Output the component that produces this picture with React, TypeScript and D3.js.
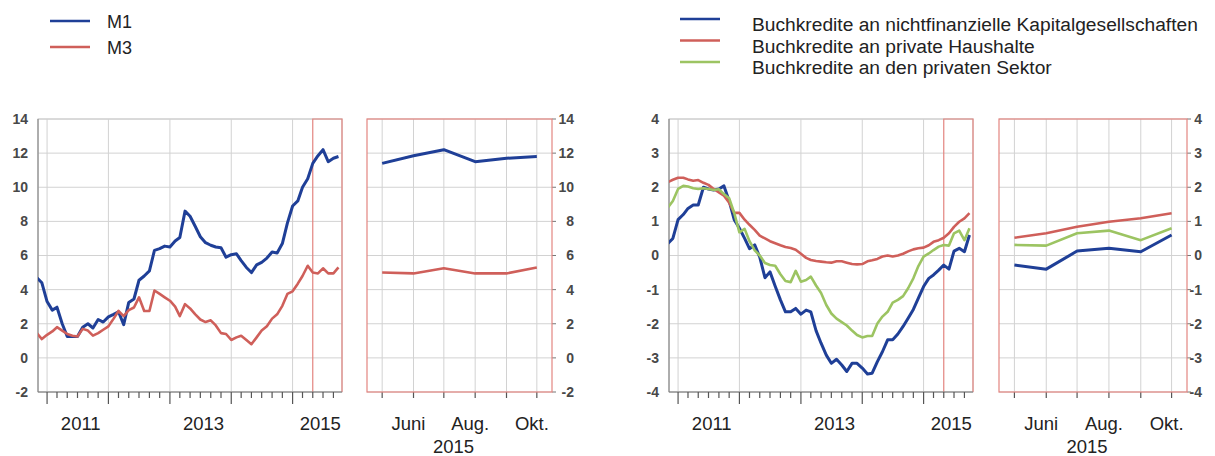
import React from 'react';
import * as d3 from 'd3';

// monthly observations, Nov 2010 .. Oct 2015
const months = d3.timeMonth.range(new Date(2010, 10, 1), new Date(2015, 10, 1));

// left panel: annual growth rates of monetary aggregates (%)
const m1 = [4.7, 4.4, 3.3, 2.8, 2.97, 2.0, 1.25, 1.25, 1.25, 1.8, 2.0, 1.75, 2.25, 2.1, 2.4, 2.55, 2.7, 1.95, 3.25, 3.45,
  4.55, 4.8, 5.1, 6.3, 6.4, 6.55, 6.5, 6.85, 7.05, 8.6, 8.3, 7.7, 7.1, 6.75, 6.6, 6.5, 6.45, 5.9, 6.05, 6.1,
  5.7, 5.3, 5.0, 5.45, 5.6, 5.85, 6.2, 6.15, 6.7, 7.9, 8.9, 9.2, 10.0, 10.5, 11.4, 11.85, 12.2, 11.5, 11.7, 11.8];
const m3 = [1.45, 1.1, 1.35, 1.55, 1.8, 1.6, 1.4, 1.3, 1.25, 1.7, 1.6, 1.3, 1.45, 1.65, 1.85, 2.3, 2.75, 2.45, 2.8, 2.95,
  3.55, 2.75, 2.75, 3.95, 3.75, 3.55, 3.35, 3.0, 2.45, 3.15, 2.9, 2.55, 2.25, 2.1, 2.2, 1.9, 1.45, 1.4, 1.05, 1.2,
  1.3, 1.05, 0.8, 1.2, 1.6, 1.85, 2.3, 2.55, 3.05, 3.75, 3.9, 4.35, 4.8, 5.4, 5.0, 4.95, 5.25, 4.95, 4.95, 5.3];

// right panel: loans (%)
const loansNfc = [0.35, 0.5, 1.05, 1.2, 1.38, 1.48, 1.48, 2.0, 1.95, 1.92, 1.95, 2.04, 1.6, 1.05, 0.8, 0.5, 0.2, 0.31, -0.05, -0.65,
  -0.48, -0.9, -1.3, -1.65, -1.65, -1.55, -1.72, -1.6, -1.65, -2.2, -2.57, -2.92, -3.16, -3.04, -3.21, -3.4, -3.16, -3.16, -3.3, -3.47,
  -3.45, -3.11, -2.82, -2.47, -2.47, -2.3, -2.08, -1.84, -1.58, -1.25, -0.91, -0.67, -0.57, -0.43, -0.28, -0.4, 0.13, 0.21, 0.11, 0.6];
const loansHouseholds = [2.15, 2.22, 2.28, 2.28, 2.23, 2.19, 2.21, 2.13, 2.07, 1.95, 1.85, 1.75, 1.55, 1.25, 1.25, 1.05, 0.9, 0.75, 0.58, 0.5,
  0.42, 0.36, 0.3, 0.25, 0.22, 0.17, 0.05, -0.07, -0.13, -0.16, -0.18, -0.2, -0.21, -0.17, -0.17, -0.21, -0.25, -0.26, -0.25, -0.17,
  -0.14, -0.1, -0.03, 0.0, -0.03, 0.0, 0.05, 0.12, 0.18, 0.21, 0.23, 0.3, 0.4, 0.45, 0.52, 0.65, 0.84, 0.99, 1.09, 1.24];
const loansPrivate = [1.4, 1.6, 1.95, 2.04, 2.02, 1.97, 1.95, 1.97, 1.95, 1.92, 1.94, 1.8, 1.68, 1.25, 0.68, 0.78, 0.42, 0.15, 0.0, -0.22,
  -0.28, -0.3, -0.55, -0.75, -0.78, -0.45, -0.77, -0.72, -0.62, -0.88, -1.1, -1.45, -1.7, -1.85, -1.95, -2.05, -2.2, -2.33, -2.4, -2.36,
  -2.36, -1.99, -1.79, -1.65, -1.38, -1.3, -1.19, -0.96, -0.67, -0.31, -0.03, 0.06, 0.16, 0.26, 0.31, 0.29, 0.65, 0.73, 0.45, 0.8];

const leftTicks = [-2, 0, 2, 4, 6, 8, 10, 12, 14];
const rightTicks = [-4, -3, -2, -1, 0, 1, 2, 3, 4];
const yearLabels = [2011, 2013, 2015];
const zoomMonthLabels = ['Juni', 'Aug.', 'Okt.'];
const zoomMonthIndex = [5, 7, 9];
const zoomYear = '2015';

const leftLegend = ['M1', 'M3'];
const rightLegend = [
  'Buchkredite an nichtfinanzielle Kapitalgesellschaften',
  'Buchkredite an private Haushalte',
  'Buchkredite an den privaten Sektor',
];

const BLUE = '#1f3f97';
const RED = '#cf5f5a';
const GREEN = '#9cc462';
const FRAME_RED = '#e38580';
const GRID = '#d2d2d2';
const FONT = '"Liberation Sans", Arial, Helvetica, sans-serif';

const mainDomain: [Date, Date] = [new Date(2010, 10, 8), new Date(2015, 9, 22)];
const zoomDomain: [Date, Date] = [new Date(2015, 3, 16), new Date(2015, 9, 16)];
const zoomStart = new Date(2015, 4, 1);

type PanelProps = {
  id: string;
  series: { values: number[]; color: string; width: number }[];
  yDomain: [number, number];
  yTicks: number[];
  mainRange: [number, number];
  zoomRange: [number, number];
  leftLabelX: number;
  rightLabelX: number;
};

const TOP = 119;
const BOTTOM = 392;

function Panel({ id, series, yDomain, yTicks, mainRange, zoomRange, leftLabelX, rightLabelX }: PanelProps) {
  const y = d3.scaleLinear().domain(yDomain).range([BOTTOM, TOP]);
  const x = d3.scaleTime().domain(mainDomain).range(mainRange);
  const xz = d3.scaleTime().domain(zoomDomain).range(zoomRange);

  const mainLine = d3.line<number>().x((d, i) => x(months[i])).y(d => y(d));
  const zoomIdx = months.map((m, i) => i).filter(i => months[i] >= zoomStart);

  const yearTicks = x.ticks(d3.timeYear.every(1));
  const minorTicks = x.ticks(d3.timeMonth.every(2));
  const [x0, x1] = mainRange;
  const [z0, z1] = zoomRange;
  const redX = x(zoomStart);

  const yearMid = (yr: number) => {
    const a = Math.max(x(new Date(yr, 0, 1)), x0);
    const b = Math.min(x(new Date(yr + 1, 0, 1)), x1);
    return (a + b) / 2 + 3;
  };

  return (
    <g>
      <defs>
        <clipPath id={`clip-${id}`}>
          <rect x={x0} y={TOP - 5} width={x1 - x0} height={BOTTOM - TOP + 10} />
        </clipPath>
      </defs>

      {/* main plot */}
      <rect x={x0} y={TOP} width={x1 - x0} height={BOTTOM - TOP} fill="white" stroke="#c4c4c4" />
      {yTicks.map(t => (
        <line key={`hg${t}`} x1={x0} x2={x1} y1={y(t)} y2={y(t)} stroke={GRID} />
      ))}
      {yearTicks.map(t => (
        <line key={`vg${+t}`} x1={x(t)} x2={x(t)} y1={TOP} y2={BOTTOM} stroke={GRID} />
      ))}
      <path d={`M${redX},${BOTTOM}V${TOP}H${x1}V${BOTTOM}`} fill="none" stroke={FRAME_RED} strokeWidth={1.2} />
      <line x1={x0} x2={x0} y1={TOP} y2={BOTTOM} stroke="#7a7a7a" />
      <line x1={x0} x2={x1} y1={BOTTOM} y2={BOTTOM} stroke="#7a7a7a" />
      {minorTicks.map(t => (
        <line key={`mt${+t}`} x1={x(t)} x2={x(t)} y1={BOTTOM} y2={BOTTOM + (t.getMonth() === 0 ? 12 : 6)}
          stroke="#555" strokeWidth={1.2} />
      ))}
      <g clipPath={`url(#clip-${id})`}>
        {series.map((s, k) => (
          <path key={k} d={mainLine(s.values) || ''} fill="none" stroke={s.color} strokeWidth={s.width}
            strokeLinejoin="round" />
        ))}
      </g>
      {yTicks.map(t => (
        <text key={`yl${t}`} x={leftLabelX} y={y(t)} dy="0.35em" textAnchor="end" fontSize={14}
          fontWeight="bold" fill="#484848" fontFamily={FONT}>{t}</text>
      ))}
      {yearLabels.map(yr => (
        <text key={`yr${yr}`} x={yearMid(yr)} y={430} textAnchor="middle" fontSize={18.5} fill="#222"
          fontFamily={FONT}>{yr}</text>
      ))}

      {/* zoom plot */}
      <rect x={z0} y={TOP} width={z1 - z0} height={BOTTOM - TOP} fill="white" />
      {yTicks.map(t => (
        <g key={`zg${t}`}>
          <line x1={z0} x2={z1} y1={y(t)} y2={y(t)} stroke={GRID} />
          <line x1={z1} x2={z1 + 4} y1={y(t)} y2={y(t)} stroke="#777" />
        </g>
      ))}
      {zoomIdx.map(i => (
        <g key={`zv${i}`}>
          <line x1={xz(months[i])} x2={xz(months[i])} y1={TOP} y2={BOTTOM} stroke={GRID} />
          <line x1={xz(months[i])} x2={xz(months[i])} y1={BOTTOM} y2={BOTTOM + 6} stroke="#555" strokeWidth={1.2} />
        </g>
      ))}
      <rect x={z0} y={TOP} width={z1 - z0} height={BOTTOM - TOP} fill="none" stroke={FRAME_RED} strokeWidth={1.2} />
      {series.map((s, k) => (
        <path key={`z${k}`}
          d={d3.line<number>().x(i => xz(months[i])).y(i => y(s.values[i]))(zoomIdx) || ''}
          fill="none" stroke={s.color} strokeWidth={s.width} strokeLinejoin="round" />
      ))}
      {yTicks.map(t => (
        <text key={`zl${t}`} x={rightLabelX} y={y(t)} dy="0.35em" textAnchor="end" fontSize={14}
          fontWeight="bold" fill="#484848" fontFamily={FONT}>{t}</text>
      ))}
      {zoomMonthLabels.map((lab, k) => (
        <text key={lab} x={xz(new Date(2015, zoomMonthIndex[k], 1)) - 5} y={430} textAnchor="middle"
          fontSize={18.5} fill="#222" fontFamily={FONT}>{lab}</text>
      ))}
      <text x={(z0 + z1) / 2 - 6} y={453} textAnchor="middle" fontSize={18.5} fill="#222" fontFamily={FONT}>
        {zoomYear}
      </text>
    </g>
  );
}

export default function App() {
  const leftColors = [BLUE, RED];
  const rightColors = [BLUE, RED, GREEN];
  return (
    <svg width={1215} height={456} style={{ position: 'absolute', left: 0, top: 0, background: 'white' }}>
      {leftLegend.map((name, k) => (
        <g key={name}>
          <line x1={50} x2={90} y1={21 + k * 26} y2={21 + k * 26} stroke={leftColors[k]} strokeWidth={2.5} />
          <text x={107} y={27.5 + k * 26} fontSize={18} fill="#222" fontFamily={FONT}>{name}</text>
        </g>
      ))}
      {rightLegend.map((name, k) => (
        <g key={name}>
          <line x1={680} x2={720} y1={19 + k * 21.5} y2={19 + k * 21.5} stroke={rightColors[k]} strokeWidth={2.5} />
          <text x={752} y={31 + k * 21.5} fontSize={19.2} fill="#222" fontFamily={FONT}>{name}</text>
        </g>
      ))}

      <Panel id="money"
        series={[{ values: m1, color: BLUE, width: 3 }, { values: m3, color: RED, width: 2.6 }]}
        yDomain={[-2, 14]} yTicks={leftTicks}
        mainRange={[38, 342]} zoomRange={[367, 552]}
        leftLabelX={28} rightLabelX={574} />
      <Panel id="loans"
        series={[
          { values: loansNfc, color: BLUE, width: 3 },
          { values: loansHouseholds, color: RED, width: 2.6 },
          { values: loansPrivate, color: GREEN, width: 2.6 },
        ]}
        yDomain={[-4, 4]} yTicks={rightTicks}
        mainRange={[669, 973]} zoomRange={[999, 1187]}
        leftLabelX={659} rightLabelX={1202} />
    </svg>
  );
}
